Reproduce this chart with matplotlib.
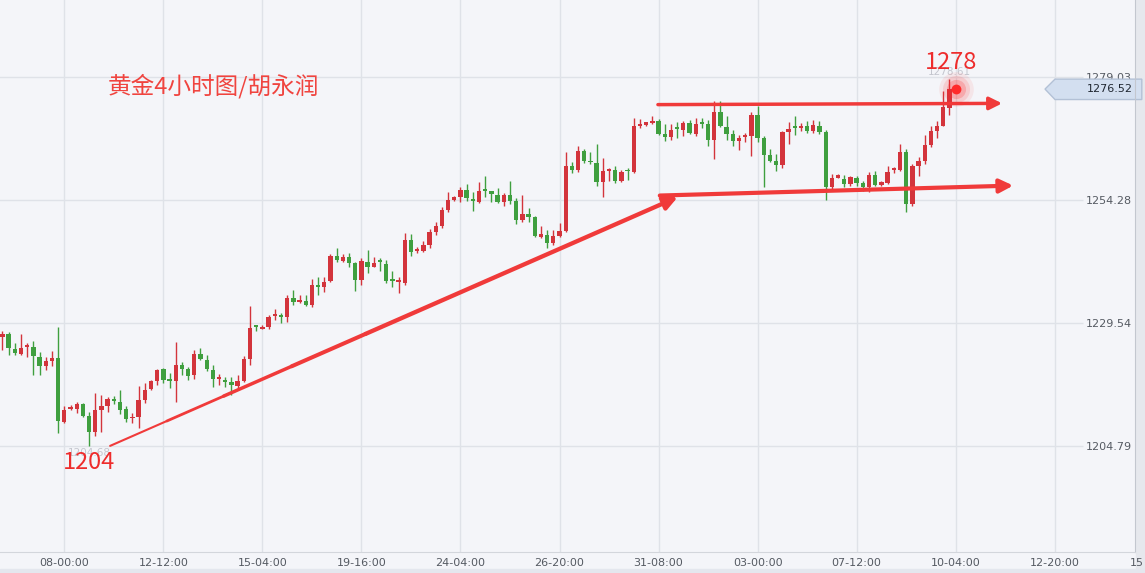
import numpy as np
import matplotlib
matplotlib.use('Agg')
import matplotlib.pyplot as plt
import matplotlib.transforms as mtransforms
from matplotlib.patches import Polygon, Rectangle

plt.rcParams['font.family'] = ['DejaVu Sans', 'Noto Sans CJK SC']

# 4h candles
opens = [1226.8, 1227.3, 1224.4, 1223.4, 1224.8, 1224.8, 1222.8, 1220.9, 1221.9, 1222.6,
         1209.7, 1212.4, 1212.4, 1213.4, 1210.9, 1207.6, 1212.2, 1213.0, 1214.2, 1213.8,
         1212.3, 1210.4, 1210.6, 1214.2, 1216.3, 1218.0, 1220.3, 1218.2, 1218.0, 1221.2,
         1220.3, 1219.1, 1223.4, 1222.2, 1220.2, 1218.3, 1218.2, 1217.8, 1217.0, 1218.0,
         1222.4, 1229.1, 1228.3, 1228.8, 1230.9, 1231.2, 1230.8, 1234.6, 1233.8, 1233.9,
         1233.1, 1237.2, 1236.8, 1237.9, 1243.0, 1242.1, 1242.8, 1241.6, 1238.1, 1241.9,
         1240.9, 1242.1, 1241.4, 1238.2, 1237.8, 1237.6, 1246.2, 1244.0, 1244.1, 1245.2,
         1247.9, 1249.0, 1252.2, 1254.2, 1254.8, 1256.2, 1254.4, 1253.9, 1256.4, 1256.0,
         1255.2, 1253.9, 1255.2, 1254.1, 1250.3, 1251.4, 1250.9, 1246.9, 1247.3, 1245.6,
         1247.1, 1248.1, 1261.1, 1260.3, 1264.1, 1262.1, 1261.6, 1257.8, 1260.0, 1260.2,
         1258.1, 1260.3, 1259.8, 1269.1, 1269.4, 1269.8, 1270.2, 1267.6, 1266.9, 1268.9,
         1268.3, 1269.8, 1267.6, 1270.0, 1269.6, 1266.3, 1271.9, 1269.0, 1267.6, 1266.1,
         1267.0, 1267.1, 1271.4, 1266.6, 1263.3, 1262.1, 1261.2, 1267.9, 1269.1, 1268.8,
         1269.1, 1268.1, 1269.2, 1268.0, 1256.8, 1258.7, 1258.4, 1257.4, 1258.6, 1257.6,
         1256.8, 1259.2, 1257.2, 1257.6, 1260.2, 1260.3, 1263.9, 1253.4, 1261.1, 1262.1,
         1265.2, 1268.1, 1269.2, 1272.8]
highs = [1227.9, 1227.8, 1225.6, 1227.4, 1225.6, 1225.9, 1223.8, 1222.8, 1224.0, 1228.8,
         1213.0, 1213.1, 1213.8, 1213.6, 1211.8, 1215.6, 1215.2, 1214.7, 1215.0, 1216.2,
         1212.9, 1211.6, 1217.0, 1217.6, 1218.2, 1220.4, 1220.6, 1219.6, 1225.8, 1221.8,
         1220.8, 1224.1, 1224.6, 1223.2, 1221.1, 1219.4, 1218.8, 1218.8, 1219.2, 1223.0,
         1233.0, 1229.2, 1229.1, 1231.2, 1232.4, 1231.6, 1235.1, 1236.2, 1235.1, 1235.2,
         1238.4, 1238.8, 1238.7, 1243.4, 1244.6, 1243.4, 1243.6, 1241.9, 1242.6, 1244.3,
         1242.8, 1242.6, 1242.3, 1240.1, 1238.8, 1247.6, 1247.4, 1244.8, 1246.1, 1248.4,
         1249.8, 1252.8, 1255.8, 1255.0, 1256.8, 1257.4, 1255.8, 1257.9, 1259.0, 1256.1,
         1256.6, 1255.6, 1258.1, 1254.6, 1255.2, 1252.6, 1251.1, 1249.1, 1248.3, 1248.3,
         1249.6, 1263.8, 1261.8, 1265.1, 1264.4, 1263.9, 1265.4, 1262.6, 1260.6, 1261.0,
         1260.2, 1260.6, 1270.8, 1270.6, 1270.0, 1271.2, 1270.6, 1269.6, 1269.6, 1270.0,
         1270.2, 1270.3, 1270.8, 1270.8, 1270.3, 1274.2, 1274.1, 1271.2, 1268.4, 1267.4,
         1267.8, 1271.9, 1273.1, 1267.1, 1264.4, 1263.4, 1268.1, 1269.9, 1271.1, 1269.8,
         1270.1, 1270.4, 1270.1, 1268.4, 1259.4, 1259.4, 1259.2, 1259.0, 1259.0, 1258.1,
         1259.9, 1260.1, 1258.1, 1261.1, 1260.9, 1265.4, 1264.4, 1261.4, 1262.8, 1267.4,
         1269.2, 1270.1, 1276.2, 1278.6]
lows = [1224.1, 1223.2, 1223.1, 1223.2, 1222.8, 1219.1, 1219.2, 1220.1, 1220.9, 1207.4,
        1209.4, 1212.1, 1211.6, 1210.6, 1204.9, 1206.9, 1207.6, 1211.8, 1213.4, 1211.4,
        1209.6, 1209.4, 1208.4, 1213.6, 1216.2, 1217.1, 1217.6, 1216.6, 1213.8, 1219.1,
        1218.1, 1218.3, 1222.1, 1219.9, 1216.8, 1217.1, 1216.8, 1215.1, 1216.6, 1217.8,
        1221.1, 1228.0, 1228.3, 1228.3, 1230.1, 1229.6, 1229.8, 1233.1, 1233.6, 1233.0,
        1232.8, 1235.2, 1235.8, 1237.8, 1241.8, 1241.8, 1240.8, 1235.9, 1237.1, 1239.6,
        1240.8, 1240.1, 1237.6, 1236.8, 1235.6, 1237.1, 1243.0, 1243.6, 1243.8, 1244.6,
        1247.2, 1248.6, 1251.9, 1254.0, 1253.8, 1254.0, 1252.1, 1253.6, 1254.8, 1253.9,
        1253.6, 1253.1, 1253.4, 1249.4, 1249.9, 1249.8, 1246.9, 1246.6, 1244.6, 1245.2,
        1246.8, 1247.8, 1259.6, 1259.9, 1261.6, 1261.4, 1257.0, 1254.8, 1258.1, 1257.6,
        1257.8, 1258.2, 1259.6, 1268.8, 1269.2, 1269.6, 1267.4, 1266.1, 1266.3, 1266.8,
        1267.1, 1267.6, 1267.2, 1268.8, 1265.0, 1262.4, 1269.0, 1266.3, 1265.1, 1264.2,
        1265.8, 1263.1, 1265.9, 1256.9, 1261.8, 1260.1, 1260.6, 1265.4, 1267.4, 1268.1,
        1267.8, 1267.8, 1267.6, 1254.2, 1256.3, 1258.6, 1256.8, 1257.1, 1257.1, 1256.1,
        1255.9, 1257.0, 1257.0, 1257.4, 1259.6, 1260.1, 1251.8, 1253.1, 1259.0, 1261.4,
        1264.8, 1266.8, 1269.1, 1271.4]
closes = [1227.3, 1224.6, 1223.5, 1224.6, 1225.2, 1222.9, 1220.9, 1221.9, 1222.6, 1209.8,
          1212.2, 1212.8, 1213.4, 1210.8, 1207.6, 1212.2, 1213.0, 1214.3, 1214.0, 1212.2,
          1210.2, 1210.7, 1214.2, 1216.2, 1218.0, 1220.2, 1218.2, 1217.9, 1221.2, 1220.3,
          1219.0, 1223.4, 1222.3, 1220.3, 1218.4, 1218.7, 1217.8, 1217.1, 1217.9, 1222.4,
          1228.6, 1228.8, 1228.8, 1230.8, 1231.3, 1230.7, 1234.6, 1233.8, 1234.1, 1233.1,
          1237.2, 1236.8, 1237.8, 1243.0, 1242.2, 1242.9, 1241.6, 1238.1, 1242.1, 1240.9,
          1241.6, 1241.9, 1237.9, 1238.0, 1238.0, 1246.2, 1243.9, 1244.4, 1245.2, 1247.9,
          1249.0, 1252.3, 1254.2, 1254.8, 1256.2, 1254.6, 1254.0, 1256.0, 1256.1, 1255.4,
          1253.9, 1255.2, 1254.1, 1250.3, 1251.4, 1250.9, 1247.0, 1247.4, 1245.6, 1247.1,
          1248.1, 1261.1, 1260.3, 1264.1, 1262.1, 1261.8, 1257.8, 1260.1, 1260.4, 1258.0,
          1259.9, 1260.0, 1269.1, 1269.4, 1269.9, 1270.2, 1267.6, 1266.9, 1268.4, 1268.6,
          1269.8, 1267.8, 1269.6, 1269.6, 1266.3, 1271.9, 1269.1, 1267.6, 1266.1, 1266.8,
          1267.3, 1271.4, 1266.6, 1263.3, 1262.1, 1261.2, 1267.9, 1268.6, 1268.8, 1269.2,
          1268.2, 1269.4, 1268.0, 1256.8, 1258.6, 1259.2, 1257.4, 1258.8, 1257.6, 1256.8,
          1259.2, 1257.2, 1257.9, 1259.9, 1260.6, 1263.9, 1253.4, 1261.1, 1262.1, 1265.2,
          1268.1, 1269.2, 1272.9, 1276.5]

tick_bars = [10, 26, 42, 58, 74, 90, 106, 122, 138, 154, 170]
tick_labels = ['08-00:00', '12-12:00', '15-04:00', '19-16:00', '24-04:00', '26-20:00',
               '31-08:00', '03-00:00', '07-12:00', '10-04:00', '12-20:00']
price_ticks = [1204.79, 1229.54, 1254.28, 1279.03]
last_price = 1276.52
low_label = '1204.68'
high_label = '1278.61'
title = '黄金4小时图/胡永润'

# hand drawn lines (bar index, price)
trend_line = [(17.4, 1204.9), (109.1, 1254.85)]
top_line = [(105.9, 1273.4), (161.5, 1273.65)]
bottom_line = [(106.2, 1255.15), (163.3, 1257.15)]

bg = '#f4f5f9'
grid_c = '#dfe2e8'
up_c = '#d3343c'
down_c = '#3f9f3f'
mark_c = '#f03a3a'

fig = plt.figure(figsize=(11.45, 5.73), dpi=100, facecolor=bg)
ax = fig.add_axes([0, 21 / 573, 1135 / 1145, 552 / 573], facecolor=bg)
ax.set_xlim(-0.39, 182.97)
ax.set_ylim(1183.6, 1294.4)

o = np.array(opens)
h = np.array(highs)
l = np.array(lows)
c = np.array(closes)
x = np.arange(len(c))
cols = np.where(c >= o, up_c, down_c)

ax.vlines(x, l, h, colors=cols, lw=1, zorder=2)
ax.bar(x, np.maximum(np.abs(c - o), 0.35), bottom=np.minimum(o, c), width=0.7,
       color=cols, lw=0, zorder=3)

# grid
ax.set_axisbelow(True)
ax.set_xticks(tick_bars, tick_labels)
ax.grid(axis='x', color=grid_c, lw=1)
ax.hlines(price_ticks, -1, 174.6, color=grid_c, lw=1, zorder=0)
ax.tick_params(axis='x', length=0, labelsize=8, labelcolor='#555a62', pad=4)
ax.text(182.1, -0.0205, '15', transform=mtransforms.blended_transform_factory(ax.transData, ax.transAxes),
        ha='left', va='center', fontsize=8, color='#555a62', clip_on=False)

ax.set_yticks(price_ticks, [f'{p:.2f}' for p in price_ticks])
ax.yaxis.tick_right()
ax.tick_params(axis='y', length=0, pad=-2, labelsize=8, labelcolor='#555a62')
for t in ax.yaxis.get_major_ticks():
    t.label2.set_ha('right')

for s in ['top', 'left']:
    ax.spines[s].set_visible(False)
ax.spines['bottom'].set_color('#d3d6dc')
ax.spines['right'].set_color('#c3c7cf')

fig.add_artist(Rectangle((1136 / 1145, 0), 9 / 1145, 1, transform=fig.transFigure,
                         color='#e6e8ed', zorder=-1))
fig.add_artist(Rectangle((0, 0), 1, 4 / 573, transform=fig.transFigure,
                         color='#e4e7ee', zorder=-1))

# current price tag
trans = mtransforms.blended_transform_factory(ax.transAxes, ax.transData)
tag = Polygon([(1045 / 1135, last_price), (1055 / 1135, last_price + 2.0), (1.006, last_price + 2.0),
               (1.006, last_price - 2.1), (1055 / 1135, last_price - 2.1)], closed=True,
              transform=trans, facecolor='#d3dff0', edgecolor='#b3c1d6', lw=1, clip_on=False, zorder=2)
ax.add_patch(tag)
ax.text(1133 / 1135, last_price, f'{last_price:.2f}', transform=trans, ha='right', va='center',
        fontsize=8, color='#1f2630', zorder=4)

# annotations
ax.text(108 / 1135, 1 - 86 / 552, title, transform=ax.transAxes, ha='left', va='center',
        fontsize=17, color='#f0443f', family=['Noto Sans CJK SC', 'DejaVu Sans'])

i_lo = int(np.argmin(l))
i_hi = int(np.argmax(h))
ax.annotate(low_label, (i_lo, l[i_lo]), xytext=(0, -5), textcoords='offset points',
            ha='center', va='center', fontsize=7.5, color='#c4c6ce', zorder=5)
ax.annotate('1204', (i_lo, l[i_lo]), xytext=(0, -12), textcoords='offset points',
            ha='center', va='center', fontsize=17, color='#ee2c2c', zorder=6,
            family=['Noto Sans CJK SC', 'DejaVu Sans'])
ax.annotate(high_label, (i_hi, h[i_hi]), xytext=(0, 5), textcoords='offset points',
            ha='center', va='center', fontsize=7.5, color='#c4c6ce', zorder=5)
ax.annotate('1278', (i_hi, h[i_hi]), xytext=(1, 12), textcoords='offset points',
            ha='center', va='center', fontsize=17, color='#ee2c2c', zorder=6,
            family=['Noto Sans CJK SC', 'DejaVu Sans'])

# lines with arrows; the trend line gets thicker along its length
(x0, y0), (x1, y1) = trend_line
steps = [(0.0, 0.1, 1.5), (0.1, 0.2, 2.0), (0.2, 0.32, 2.5), (0.32, 0.45, 2.9)]
for f0, f1, lw in steps:
    ax.plot([x0 + f0 * (x1 - x0), x0 + f1 * (x1 - x0)], [y0 + f0 * (y1 - y0), y0 + f1 * (y1 - y0)],
            color=mark_c, lw=lw, zorder=5, solid_capstyle='round')
xs, ys = x0 + 0.45 * (x1 - x0), y0 + 0.45 * (y1 - y0)
arrow_style = '-|>,head_length=0.5,head_width=0.25'
ax.annotate('', xy=(x1, y1), xytext=(xs, ys),
            arrowprops=dict(arrowstyle=arrow_style, color=mark_c, lw=3.1, mutation_scale=16,
                            shrinkA=0, shrinkB=0), zorder=5)
ax.annotate('', xy=top_line[1], xytext=top_line[0],
            arrowprops=dict(arrowstyle=arrow_style, color=mark_c, lw=2.5, mutation_scale=15,
                            shrinkA=0, shrinkB=0), zorder=5)
ax.annotate('', xy=bottom_line[1], xytext=bottom_line[0],
            arrowprops=dict(arrowstyle=arrow_style, color=mark_c, lw=3, mutation_scale=16,
                            shrinkA=0, shrinkB=0), zorder=5)

# glowing dot on the last price
dot_x = len(c)
for s, a in [(620, 0.08), (380, 0.13), (190, 0.22), (50, 1.0)]:
    ax.scatter([dot_x], [last_price], s=s, color='#ff2b2b', alpha=a, lw=0, zorder=7)

fig.savefig('out.png', dpi=100, facecolor=bg)
